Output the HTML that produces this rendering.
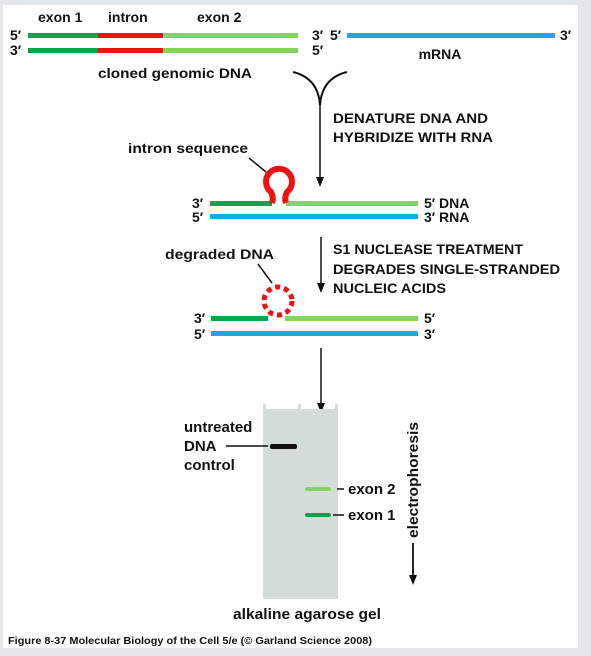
<!DOCTYPE html>
<html><head><meta charset="utf-8"><style>
html,body{margin:0;padding:0;background:#e4e7ea;}
svg{display:block;font-family:"Liberation Sans",sans-serif;font-weight:bold;}
</style></head><body>
<svg width="591" height="656" viewBox="0 0 591 656">
<rect x="0" y="0" width="591" height="656" fill="#e4e7ea"/>
<rect x="3" y="5" width="575" height="643" fill="#fff"/>

<g font-size="14" fill="#111">
<text x="38" y="22">exon 1</text>
<text x="108" y="22">intron</text>
<text x="197" y="22">exon 2</text>
<text x="10" y="40">5′</text><text x="10" y="55">3′</text>
<text x="312" y="40">3′</text><text x="312" y="55">5′</text>
<rect x="28" y="33" width="70" height="5" fill="#0aa54a"/><rect x="98" y="33" width="65" height="5" fill="#f01010"/><rect x="163" y="33" width="135" height="5" fill="#84d65a"/>
<rect x="28" y="48" width="70" height="5" fill="#0aa54a"/><rect x="98" y="48" width="65" height="5" fill="#f01010"/><rect x="163" y="48" width="135" height="5" fill="#84d65a"/>
<text x="175" y="78" text-anchor="middle" textLength="154" lengthAdjust="spacingAndGlyphs">cloned genomic DNA</text>
</g>
<g font-size="14" fill="#111">
<text x="330" y="40">5′</text><text x="560" y="40">3′</text>
<rect x="347" y="33" width="208" height="5" fill="#1aa8ec"/>
<text x="440" y="59" text-anchor="middle">mRNA</text>
</g>

<path d="M293,72 Q318,78 320,105 Q322,78 347,72" fill="none" stroke="#111" stroke-width="2"/>
<g><line x1="320" y1="100" x2="320" y2="180" stroke="#111" stroke-width="1.5"/><path d="M316,177 L320,187 L324,177 Z" fill="#111"/></g>
<text x="333" y="123" font-size="14" textLength="155" lengthAdjust="spacingAndGlyphs" fill="#111">DENATURE DNA AND</text>
<text x="333" y="142" font-size="14" textLength="160" lengthAdjust="spacingAndGlyphs" fill="#111">HYBRIDIZE WITH RNA</text>

<text x="128" y="153" font-size="14" textLength="120" lengthAdjust="spacingAndGlyphs" fill="#111">intron sequence</text>
<line x1="249" y1="158" x2="266" y2="172" stroke="#111" stroke-width="1.5"/>
<g font-size="14" fill="#111">
<text x="192" y="208">3′</text><text x="192" y="222">5′</text>
<text x="424" y="208">5′  DNA</text><text x="424" y="222">3′  RNA</text>
<rect x="210" y="201" width="62" height="5" fill="#0aa54a"/><rect x="286" y="201" width="132" height="5" fill="#84d65a"/>
<rect x="210" y="214" width="208" height="5" fill="#1aa8ec"/>
<path d="M272,203 Q274,198 271,192 A13,13 0 1 1 287,192 Q284,198 286,203" fill="none" stroke="#f01010" stroke-width="6"/>
</g>

<g><line x1="321" y1="237" x2="321" y2="285" stroke="#111" stroke-width="1.5"/><path d="M317,283 L321,293 L325,283 Z" fill="#111"/></g>
<text x="333" y="254" font-size="14" textLength="190" lengthAdjust="spacingAndGlyphs" fill="#111">S1 NUCLEASE TREATMENT</text>
<text x="333" y="274" font-size="14" textLength="227" lengthAdjust="spacingAndGlyphs" fill="#111">DEGRADES SINGLE-STRANDED</text>
<text x="333" y="293" font-size="14" textLength="113" lengthAdjust="spacingAndGlyphs" fill="#111">NUCLEIC ACIDS</text>

<text x="165" y="259" font-size="14" textLength="109" lengthAdjust="spacingAndGlyphs" fill="#111">degraded DNA</text>
<line x1="258" y1="264" x2="272" y2="283" stroke="#111" stroke-width="1.5"/>
<g font-size="14" fill="#111">
<text x="194" y="323">3′</text><text x="194" y="339">5′</text>
<text x="424" y="323">5′</text><text x="424" y="339">3′</text>
<rect x="211" y="316" width="57" height="5" fill="#0aa54a"/><rect x="285" y="316" width="133" height="5" fill="#84d65a"/>
<rect x="211" y="331" width="207" height="5" fill="#1aa8ec"/>
<circle cx="278" cy="301" r="14" fill="none" stroke="#f01010" stroke-width="5" stroke-dasharray="5 4"/>
</g>

<g><line x1="321" y1="348" x2="321" y2="405" stroke="#111" stroke-width="1.5"/><path d="M317,403 L321,413 L325,403 Z" fill="#111"/></g>

<g>
<path d="M263,404 h3 v5 h32 v-5 h3 v5 h34 v-5 h3 v195 h-75 Z" fill="#d5ddd8"/>
<rect x="270" y="444" width="27" height="5" rx="2" fill="#111"/>
<line x1="226" y1="446" x2="268" y2="446" stroke="#111" stroke-width="1.5"/>
<rect x="305" y="487" width="26" height="4" rx="2" fill="#84d65a"/>
<line x1="337" y1="489" x2="344" y2="489" stroke="#111" stroke-width="1.5"/>
<rect x="305" y="513" width="26" height="4" rx="2" fill="#0aa54a"/>
<line x1="333" y1="515" x2="344" y2="515" stroke="#111" stroke-width="1.5"/>
</g>
<g font-size="15" fill="#111">
<text x="184" y="432">untreated</text><text x="184" y="451">DNA</text><text x="184" y="470">control</text>
<text x="348" y="494">exon 2</text>
<text x="348" y="520">exon 1</text>
<text transform="translate(418,480) rotate(-90)" text-anchor="middle" textLength="116" lengthAdjust="spacingAndGlyphs">electrophoresis</text>
<text x="307" y="619" text-anchor="middle" textLength="148" lengthAdjust="spacingAndGlyphs">alkaline agarose gel</text>
</g>
<g><line x1="413" y1="543" x2="413" y2="578" stroke="#111" stroke-width="1.8"/><path d="M409,575 L413,585 L417,575 Z" fill="#111"/></g>
<text x="8" y="644" font-size="10.5" fill="#111" textLength="364" lengthAdjust="spacingAndGlyphs">Figure 8-37  Molecular Biology of the Cell 5/e (© Garland Science 2008)</text>
</svg>
</body></html>
